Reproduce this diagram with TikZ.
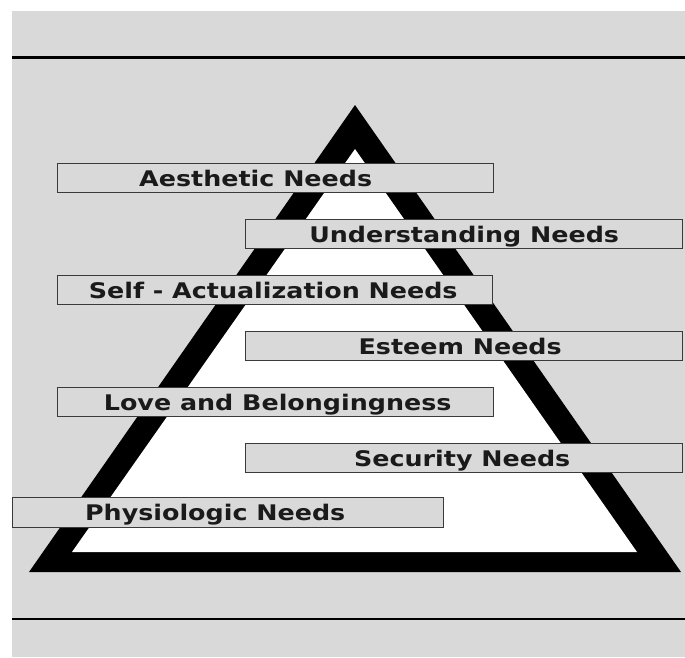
\documentclass[tikz,border=0pt]{standalone}
\usepackage{fontspec}
\newfontfamily\labelfont{DejaVu Sans}[FakeStretch=1.18]
\definecolor{panel}{HTML}{D9D9D9}
\definecolor{boxline}{HTML}{3A3A3A}
\definecolor{ink}{HTML}{1A1A1A}
\begin{document}
\begin{tikzpicture}[x=1pt,y=-1pt,
  needbox/.style={draw=boxline, line width=1.4pt, fill=panel, inner sep=0pt,
    minimum height=29pt, anchor=north west},
  needtext/.style={font=\labelfont\bfseries\fontsize{21.5}{21.5}\selectfont,
    text=ink, inner sep=0pt, anchor=base}]
% canvas: white margin, grey panel
\fill[white] (0,0) rectangle (685,657);
\useasboundingbox (0,0) rectangle (685,657);
\fill[panel] (12,11) rectangle (685,657);
% horizontal rules
\draw[line width=3pt] (12,57) -- (685,57);
\draw[line width=2.5pt] (12,619) -- (685,619);
% pyramid outline
\fill[black] (355,105) -- (681,572) -- (29,572) -- cycle;
\fill[white] (355,149) -- (637,552) -- (72,552) -- cycle;
% level boxes
\node[needbox, minimum width=436pt] (aes) at (57,163) {};
\node[needbox, minimum width=437pt] (und) at (245,219) {};
\node[needbox, minimum width=435pt] (self) at (57,275) {};
\node[needbox, minimum width=437pt] (est) at (245,331) {};
\node[needbox, minimum width=436pt] (love) at (57,387) {};
\node[needbox, minimum width=437pt] (sec) at (245,443) {};
\node[needbox, minimum width=431pt, minimum height=30pt] (phys) at (12,497) {};
% labels, baseline just below each box's centre line
\node[needtext] (taes) at ([xshift=-20pt,yshift=-7.8pt]aes.center) {Aesthetic Needs};
\node[needtext] (tund) at ([yshift=-7.8pt]und.center) {Understanding Needs};
\node[needtext] (tself) at ([xshift=-2pt,yshift=-7.8pt]self.center) {Self - Actualization Needs};
\node[needtext] (test) at ([xshift=-4pt,yshift=-7.8pt]est.center) {Esteem Needs};
\node[needtext] (tlove) at ([xshift=2pt,yshift=-7.8pt]love.center) {Love and Belongingness};
\node[needtext] (tsec) at ([xshift=-2pt,yshift=-7.8pt]sec.center) {Security Needs};
\node[needtext] (tphys) at ([xshift=-13pt,yshift=-7.8pt]phys.center) {Physiologic Needs};
\end{tikzpicture}
\end{document}
